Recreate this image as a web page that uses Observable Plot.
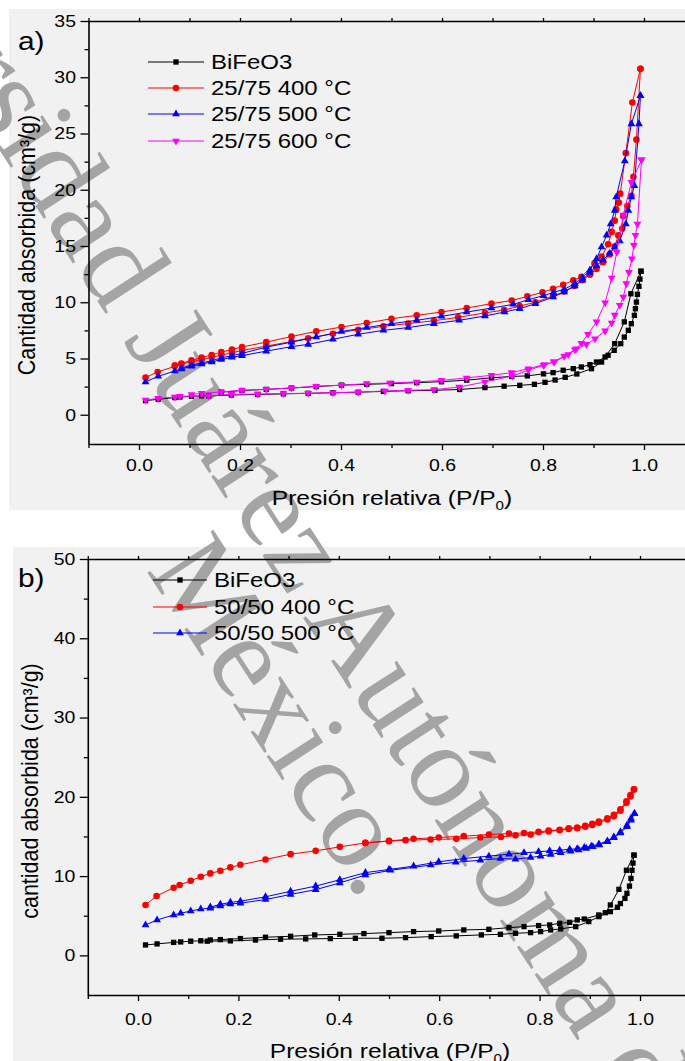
<!DOCTYPE html>
<html><head><meta charset="utf-8">
<script src="https://cdn.jsdelivr.net/npm/d3@7"></script>
<script src="https://cdn.jsdelivr.net/npm/@observablehq/plot@0.6"></script>
<style>
html,body{margin:0;padding:0;background:#fff;width:685px;height:1061px;overflow:hidden;}
#page{position:relative;width:685px;height:1061px;overflow:hidden;font-family:"Liberation Sans",Arial,sans-serif;}
.bg{position:absolute;background:#f1f1f1;}
.layer{position:absolute;left:0;top:0;overflow:visible;}
</style></head><body><div id="page">
<div class="bg" style="left:9px;top:9px;width:676px;height:501px"></div>
<div class="bg" style="left:13px;top:547px;width:672px;height:514px"></div>
</div>
<script>
// ---------- Data: panel a ----------
const aLegend = ["BiFeO3", "25/75 400 °C", "25/75 500 °C", "25/75 600 °C"];
const aBiFeO3Ads = [[0.012,1.3],[0.037,1.42],[0.07,1.57],[0.08,1.62],[0.103,1.68],[0.123,1.72],[0.137,1.72],[0.182,1.8],[0.234,1.85],[0.285,1.9],[0.334,1.95],[0.383,2.0],[0.433,2.05],[0.483,2.12],[0.532,2.18],[0.585,2.22],[0.634,2.29],[0.684,2.46],[0.722,2.58],[0.753,2.66],[0.782,2.75],[0.803,2.93],[0.823,3.13],[0.843,3.37],[0.866,3.67],[0.895,4.14],[0.915,4.73],[0.928,5.33],[0.94,5.77],[0.953,6.36],[0.96,6.95],[0.968,7.55],[0.974,8.14],[0.98,8.88],[0.982,9.47],[0.984,10.06],[0.986,10.75],[0.989,11.46],[0.991,12.1],[0.993,12.8]];
const aBiFeO3Des = [[0.993,12.8],[0.973,10.8],[0.96,8.3],[0.941,6.36],[0.922,5.18],[0.905,4.73],[0.892,4.5],[0.875,4.29],[0.859,4.14],[0.839,4.0],[0.819,3.79],[0.8,3.68],[0.768,3.5],[0.737,3.45],[0.697,3.33],[0.648,3.12],[0.598,2.98],[0.549,2.9],[0.499,2.82],[0.45,2.75],[0.4,2.68],[0.35,2.55],[0.301,2.42],[0.251,2.3],[0.203,2.2],[0.162,2.05]];
const a400Ads = [[0.012,3.35],[0.036,3.85],[0.07,4.35],[0.083,4.55],[0.103,4.75],[0.123,4.95],[0.143,5.15],[0.162,5.35],[0.183,5.55],[0.203,5.75],[0.251,6.15],[0.301,6.55],[0.334,6.85],[0.383,7.25],[0.433,7.6],[0.483,7.9],[0.532,8.15],[0.583,8.4],[0.631,8.7],[0.684,9.1],[0.722,9.35],[0.753,9.7],[0.784,10.05],[0.819,10.6],[0.841,11.0],[0.861,11.5],[0.877,12.0],[0.892,12.5],[0.905,13.0],[0.918,13.6],[0.931,14.3],[0.941,15.0],[0.948,16.0],[0.956,16.6],[0.958,17.7],[0.966,18.6],[0.974,19.5],[0.978,21.2],[0.984,24.5],[0.992,30.8]];
const a400Des = [[0.992,30.8],[0.976,27.8],[0.963,23.3],[0.952,19.7],[0.949,18.9],[0.944,18.3],[0.941,17.3],[0.935,16.3],[0.928,15.2],[0.915,14.1],[0.901,13.5],[0.875,12.3],[0.859,12.0],[0.839,11.6],[0.819,11.25],[0.798,10.92],[0.768,10.57],[0.737,10.2],[0.697,9.92],[0.648,9.53],[0.598,9.17],[0.549,8.88],[0.499,8.58],[0.45,8.2],[0.4,7.84],[0.35,7.46],[0.301,7.0],[0.251,6.5],[0.203,6.07],[0.183,5.83],[0.162,5.62],[0.143,5.36],[0.123,5.12],[0.103,4.88],[0.083,4.6],[0.07,4.44]];
const a500Ads = [[0.012,2.96],[0.037,3.46],[0.07,3.94],[0.083,4.11],[0.103,4.35],[0.123,4.55],[0.143,4.74],[0.162,4.95],[0.183,5.15],[0.203,5.3],[0.251,5.7],[0.301,6.1],[0.334,6.3],[0.383,6.75],[0.433,7.2],[0.483,7.55],[0.532,7.79],[0.583,8.14],[0.633,8.44],[0.684,8.82],[0.723,9.18],[0.753,9.47],[0.784,9.92],[0.819,10.51],[0.841,10.95],[0.862,11.5],[0.877,12.0],[0.892,12.7],[0.905,13.3],[0.918,13.8],[0.931,14.4],[0.941,14.95],[0.951,15.5],[0.963,17.0],[0.968,18.2],[0.974,19.4],[0.98,20.4],[0.989,25.9],[0.992,28.4]];
const a500Des = [[0.992,28.4],[0.974,25.9],[0.961,22.6],[0.944,19.4],[0.941,18.2],[0.933,17.0],[0.925,16.0],[0.915,14.95],[0.905,13.9],[0.892,12.9],[0.877,12.2],[0.862,11.7],[0.841,11.2],[0.82,10.92],[0.8,10.63],[0.77,10.27],[0.74,9.86],[0.697,9.53],[0.648,9.17],[0.598,8.79],[0.549,8.44],[0.499,8.14],[0.45,7.8],[0.4,7.45],[0.35,6.95],[0.301,6.5],[0.251,6.05],[0.203,5.5],[0.183,5.3],[0.162,5.1],[0.143,4.85],[0.123,4.65],[0.103,4.45],[0.083,4.2]];
const a600Ads = [[0.012,1.35],[0.037,1.5],[0.07,1.62],[0.08,1.68],[0.137,1.72],[0.182,1.86],[0.234,1.88],[0.285,1.93],[0.334,1.95],[0.383,2.01],[0.433,2.05],[0.486,2.16],[0.532,2.22],[0.583,2.27],[0.633,2.51],[0.684,2.96],[0.738,3.49],[0.77,4.0],[0.8,4.44],[0.822,4.75],[0.849,5.4],[0.865,5.9],[0.885,6.3],[0.902,6.8],[0.922,7.5],[0.935,8.2],[0.941,8.9],[0.951,9.77],[0.958,10.5],[0.964,11.7],[0.969,12.7],[0.975,13.9],[0.979,15.1],[0.982,16.0],[0.986,17.0],[0.994,22.7]];
const a600Des = [[0.994,22.7],[0.974,20.7],[0.958,17.8],[0.945,14.5],[0.935,12.2],[0.922,10.0],[0.905,8.3],[0.888,7.2],[0.875,6.4],[0.862,5.83],[0.841,5.24],[0.82,4.75],[0.802,4.5],[0.77,4.14],[0.737,3.79],[0.697,3.55],[0.648,3.32],[0.598,3.1],[0.549,2.96],[0.496,2.87],[0.45,2.81],[0.4,2.66],[0.35,2.58],[0.301,2.42],[0.251,2.31],[0.203,2.22],[0.162,2.07],[0.123,1.95],[0.103,1.85]];

// ---------- Data: panel b ----------
const bLegend = ["BiFeO3", "50/50 400 °C", "50/50 500 °C"];
const bBiFeO3Ads = [[0.014,1.38],[0.037,1.51],[0.07,1.7],[0.084,1.76],[0.104,1.85],[0.124,1.9],[0.137,1.85],[0.183,1.89],[0.233,2.0],[0.283,2.1],[0.333,2.14],[0.382,2.18],[0.432,2.22],[0.485,2.22],[0.532,2.3],[0.583,2.43],[0.633,2.52],[0.683,2.64],[0.721,2.72],[0.751,2.85],[0.781,2.93],[0.801,3.06],[0.821,3.27],[0.841,3.4],[0.871,3.69],[0.897,4.32],[0.917,4.95],[0.94,5.58],[0.954,6.13],[0.96,6.6],[0.969,7.25],[0.973,7.88],[0.978,8.8],[0.981,9.77],[0.983,10.8],[0.985,11.7],[0.987,12.7]];
const bBiFeO3Des = [[0.987,12.7],[0.972,10.8],[0.957,8.39],[0.94,6.42],[0.93,5.45],[0.917,5.16],[0.888,4.65],[0.874,4.53],[0.859,4.23],[0.839,4.1],[0.819,3.9],[0.797,3.82],[0.768,3.69],[0.738,3.56],[0.698,3.35],[0.648,3.27],[0.598,3.14],[0.548,3.06],[0.499,2.93],[0.449,2.81],[0.401,2.72],[0.351,2.64],[0.303,2.47],[0.253,2.35],[0.203,2.18],[0.163,2.05],[0.143,2.0]];
const b400Ads = [[0.014,6.42],[0.036,7.55],[0.07,8.6],[0.082,8.93],[0.104,9.47],[0.124,9.98],[0.143,10.4],[0.163,10.73],[0.183,11.16],[0.203,11.49],[0.253,12.16],[0.303,12.83],[0.353,13.25],[0.401,13.75],[0.452,14.25],[0.499,14.47],[0.532,14.6],[0.582,14.68],[0.633,14.76],[0.681,14.93],[0.722,15.0],[0.751,15.2],[0.781,15.3],[0.817,15.7],[0.839,15.85],[0.857,16.0],[0.874,16.1],[0.89,16.3],[0.904,16.5],[0.917,16.8],[0.934,17.2],[0.947,17.6],[0.96,18.3],[0.972,19.3],[0.98,20.1],[0.987,21.0]];
const b400Des = [[0.987,21.0],[0.98,20.3],[0.972,19.5],[0.96,18.5],[0.947,17.8],[0.934,17.35],[0.917,16.95],[0.904,16.65],[0.89,16.4],[0.874,16.2],[0.857,16.1],[0.839,15.9],[0.817,15.8],[0.797,15.64],[0.768,15.5],[0.738,15.43],[0.698,15.3],[0.648,15.1],[0.598,14.93],[0.548,14.76],[0.499,14.5],[0.452,14.25]];
const b500Ads = [[0.014,3.9],[0.037,4.53],[0.07,5.16],[0.084,5.37],[0.104,5.66],[0.124,5.91],[0.143,6.0],[0.163,6.3],[0.183,6.55],[0.203,6.65],[0.253,7.1],[0.303,7.75],[0.353,8.35],[0.401,9.2],[0.452,10.2],[0.502,10.8],[0.582,11.45],[0.632,11.8],[0.681,12.07],[0.721,12.28],[0.751,12.2],[0.781,12.41],[0.801,12.58],[0.821,12.79],[0.841,13.0],[0.861,13.2],[0.877,13.35],[0.892,13.55],[0.905,13.75],[0.918,14.0],[0.934,14.4],[0.947,14.9],[0.96,15.5],[0.973,16.3],[0.981,17.1],[0.988,17.95]];
const b500Des = [[0.988,17.95],[0.981,17.32],[0.973,16.48],[0.96,15.64],[0.947,15.0],[0.934,14.5],[0.917,14.09],[0.902,13.83],[0.888,13.67],[0.874,13.5],[0.859,13.45],[0.839,13.33],[0.819,13.25],[0.797,13.12],[0.768,13.0],[0.738,12.83],[0.698,12.58],[0.648,12.28],[0.598,11.86],[0.548,11.32],[0.499,10.9],[0.452,10.5],[0.401,9.6],[0.353,8.8],[0.303,8.15],[0.253,7.45],[0.203,6.9],[0.183,6.75],[0.163,6.5],[0.143,6.15]];

// ---------- Ticks and labels ----------
const xMajorTicks = [0, 0.2, 0.4, 0.6, 0.8, 1.0];
const xMinorTicks = [-0.1, 0.1, 0.3, 0.5, 0.7, 0.9];
const aYMajor = [0, 5, 10, 15, 20, 25, 30, 35];
const aYMinor = [2.5, 7.5, 12.5, 17.5, 22.5, 27.5, 32.5];
const bYMajor = [0, 10, 20, 30, 40, 50];
const bYMinor = [5, 15, 25, 35, 45];
const xTitle = "Presión relativa (P/P";
const aYTitle = "Cantidad absorbida (cm³/g)";
const bYTitle = "cantidad absorbida (cm³/g)";
const watermark1 = "Universidad Juárez Autónoma de Tabasco";
const watermark2 = "México.";

// ---------- helpers ----------
const FONT = '"Liberation Sans", Arial, sans-serif';
const triDown = {draw(ctx, size) {
  const s3 = Math.sqrt(3), y = -Math.sqrt(size / (s3 * 3));
  ctx.moveTo(0, -y * 2); ctx.lineTo(-s3 * y, y); ctx.lineTo(s3 * y, y); ctx.closePath();
}};
const SYM = {square: ["square", 3.0], circle: ["circle", 3.3], triangle: ["triangle", 2.9], down: [triDown, 2.9]};

function stretch(el, sx) {
  let t = el.getAttribute("transform") || "";
  const x = el.getAttribute("x");
  if (x && !/em$/.test(x)) { t += ` translate(${x},0)`; el.removeAttribute("x"); }
  el.setAttribute("transform", `${t} scale(${sx},1)`);
}

function panel(cfg) {
  const rows = (pts, name, branch) => pts.map(([x, y]) => ({x, y, name, branch}));
  const marks = [
    Plot.axisY({ticks: cfg.yMajor, tickSize: 8, tickPadding: 5, tickFormat: d => String(d), label: null, fontSize: 16.5, strokeWidth: 1.3}),
    Plot.axisY({ticks: cfg.yMinor, tickSize: 4, fill: "none", label: null, strokeWidth: 1.3}),
    Plot.axisX({ticks: xMajorTicks, tickSize: 6, tickPadding: cfg.xPad, tickFormat: d3.format(".1f"), label: null, fontSize: 16.5, strokeWidth: 1.3}),
    Plot.axisX({ticks: xMinorTicks, tickSize: 4, fill: "none", label: null, strokeWidth: 1.3}),
    Plot.axisX({anchor: "top", ticks: xMajorTicks.concat(xMinorTicks), tickSize: 4, fill: "none", label: null, strokeWidth: 1.3}),
    Plot.ruleX([cfg.xDomain[0]], {stroke: "#000", strokeWidth: 1.6}),
    Plot.ruleY(cfg.yDomain, {stroke: "#000", strokeWidth: 1.6})
  ];
  for (const s of cfg.series) {
    const ads = rows(s.ads, s.name, "ads"), des = rows(s.des, s.name, "des");
    marks.push(Plot.line(ads, {x: "x", y: "y", stroke: s.color, strokeWidth: 1}));
    marks.push(Plot.line(des, {x: "x", y: "y", stroke: s.color, strokeWidth: 1}));
    const [sym, r] = SYM[s.symbol];
    marks.push(Plot.dot(ads.concat(des), {x: "x", y: "y", fill: s.color, stroke: "none", symbol: sym, r}));
  }
  const svg = Plot.plot({
    width: 685, height: cfg.height,
    marginLeft: cfg.xRange[0], marginRight: 0, marginTop: cfg.yRange[1], marginBottom: cfg.height - cfg.yRange[0],
    style: {background: "transparent", fontFamily: FONT, fontSize: "16.5px", color: "#000", overflow: "visible"},
    x: {domain: cfg.xDomain, range: cfg.xRange},
    y: {domain: cfg.yDomain, range: cfg.yRange},
    marks
  });
  svg.classList.add("layer");
  svg.style.position = "absolute";
  svg.style.zIndex = 2;
  document.getElementById("page").appendChild(svg);
  // stretch tick labels horizontally (reference text is wide)
  svg.querySelectorAll('g[aria-label$="tick label"] text').forEach(t => stretch(t, 1.18));
  const g = d3.select(svg).append("g").attr("font-family", FONT).attr("fill", "#000").attr("text-anchor", "start");
  // panel letter
  g.append("text").attr("font-size", 26).attr("transform", `translate(18,${cfg.letterY}) scale(1.15,1)`).text(cfg.letter);
  // x title with subscript
  const xt = g.append("text").attr("font-size", 21).attr("text-anchor", "middle")
    .attr("transform", `translate(${cfg.xTitle[0]},${cfg.xTitle[1]}) scale(1.17,1)`);
  xt.append("tspan").text(xTitle);
  xt.append("tspan").attr("font-size", 13).attr("dy", 5).text("0");
  xt.append("tspan").attr("dy", -5).text(")");
  // y title rotated
  g.append("text").attr("font-size", 21.5).attr("text-anchor", "middle")
    .attr("transform", `translate(${cfg.yTitle[0]},${cfg.yTitle[1]}) rotate(-90) scale(1,1.08)`).text(cfg.yTitleText);
  // legend
  cfg.series.forEach((s, i) => {
    const yy = cfg.legend.y[i];
    g.append("line").attr("x1", cfg.legend.x1).attr("x2", cfg.legend.x2).attr("y1", yy).attr("y2", yy)
      .attr("stroke", s.color).attr("stroke-width", 1.1);
    const [sym, r] = SYM[s.symbol];
    const type = typeof sym === "string" ? {square: d3.symbolSquare, circle: d3.symbolCircle, triangle: d3.symbolTriangle}[sym] : sym;
    g.append("path").attr("d", d3.symbol(type, Math.PI * r * r)()).attr("fill", s.color)
      .attr("transform", `translate(${(cfg.legend.x1 + cfg.legend.x2) / 2},${yy})`);
    g.append("text").attr("font-size", 20).attr("transform", `translate(${cfg.legend.tx},${yy + 7}) scale(1.2,1)`).text(cfg.legendLabels[i]);
  });
  return svg;
}

panel({
  height: 510, letter: "a)", letterY: 50,
  xDomain: [-0.1, 1.1], xRange: [88.5, 694.5],
  yDomain: [-2.6, 35], yRange: [444, 21],
  yMajor: aYMajor, yMinor: aYMinor, xPad: 9,
  xTitle: [392, 505], yTitle: [35, 245], yTitleText: aYTitle,
  legend: {x1: 148, x2: 204, tx: 211, y: [62, 88, 114, 141]}, legendLabels: aLegend,
  series: [
    {name: aLegend[0], color: "#000000", symbol: "square", ads: aBiFeO3Ads, des: aBiFeO3Des},
    {name: aLegend[1], color: "#ff0000", symbol: "circle", ads: a400Ads, des: a400Des},
    {name: aLegend[2], color: "#0000ff", symbol: "triangle", ads: a500Ads, des: a500Des},
    {name: aLegend[3], color: "#ff00ff", symbol: "down", ads: a600Ads, des: a600Des}
  ]
});
panel({
  height: 1061, letter: "b)", letterY: 587,
  xDomain: [-0.1, 1.1], xRange: [87.8, 690.2],
  yDomain: [-5, 50], yRange: [995, 559],
  yMajor: bYMajor, yMinor: bYMinor, xPad: 12,
  xTitle: [390, 1058], yTitle: [38, 791], yTitleText: bYTitle,
  legend: {x1: 153, x2: 207, tx: 214, y: [580, 607, 633]}, legendLabels: bLegend,
  series: [
    {name: bLegend[0], color: "#000000", symbol: "square", ads: bBiFeO3Ads, des: bBiFeO3Des},
    {name: bLegend[1], color: "#ff0000", symbol: "circle", ads: b400Ads, des: b400Des},
    {name: bLegend[2], color: "#0000ff", symbol: "triangle", ads: b500Ads, des: b500Des}
  ]
});

// ---------- watermark (under the plots, over the panel backgrounds) ----------
const wmAngle = 57, wmSize = 120;
const wmSvg = d3.select("#page").append("svg").attr("class", "layer").attr("width", 685).attr("height", 1061)
  .style("position", "absolute").style("z-index", 1);
function wm(str, idx, cx, cy) {
  const g = wmSvg.append("g").attr("transform", `translate(${cx},${cy}) rotate(${wmAngle})`);
  const t = g.append("text").attr("font-family", '"Liberation Serif", "Times New Roman", serif')
    .attr("font-size", wmSize).attr("fill", "#a4a4a4").attr("y", wmSize * 0.23).text(str);
  const n = t.node();
  const before = idx > 0 ? n.getSubStringLength(0, idx) : 0;
  const w = n.getSubStringLength(idx, 1);
  t.attr("x", -(before + w / 2));
}
wm(watermark1, watermark1.indexOf("ó"), 440, 778);
wm(watermark2, 2, 272, 714);
</script>
</body></html>
